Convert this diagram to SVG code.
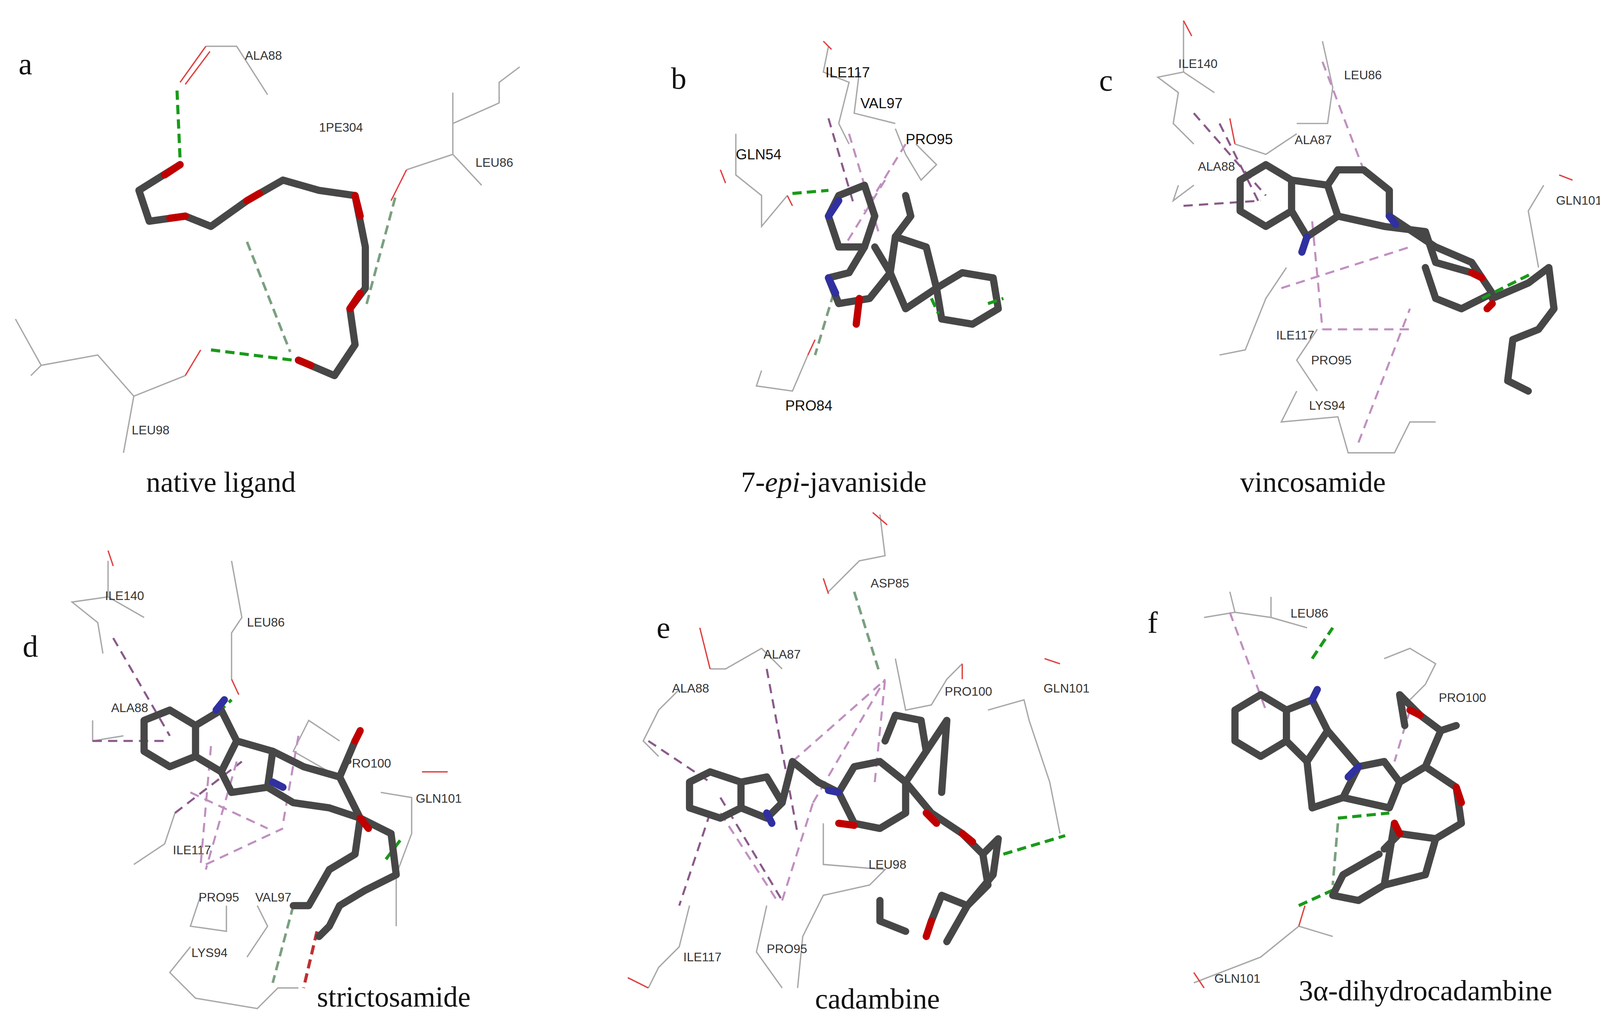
<svg xmlns="http://www.w3.org/2000/svg" width="4131" height="2642" viewBox="0 0 4131 2642">
<style>
.lig{fill:none;stroke:#474747;stroke-width:7;stroke-linecap:round;stroke-linejoin:round}
.o{fill:none;stroke:#c00000;stroke-width:7;stroke-linecap:round}
.n{fill:none;stroke:#3030a0;stroke-width:7;stroke-linecap:round}
.res{fill:none;stroke:#a8a8a8;stroke-width:1.3}
.ro{fill:none;stroke:#e04040;stroke-width:1.3}
.rn{fill:none;stroke:#8080e0;stroke-width:1.3}
.hb{fill:none;stroke:#1a9a1a;stroke-width:3;stroke-dasharray:9 5}
.hbl{fill:none;stroke:#7aa080;stroke-width:2.5;stroke-dasharray:9 5}
.pi{fill:none;stroke:#c090c0;stroke-width:2;stroke-dasharray:9 6}
.pd{fill:none;stroke:#8a5a8a;stroke-width:2;stroke-dasharray:9 6}
.lbl{font-family:"Liberation Sans",Arial,sans-serif;font-size:12px;fill:#333}
.lb2{font-family:"Liberation Sans",Arial,sans-serif;font-size:14px;fill:#111}
.cap{font-family:"Liberation Serif","Times New Roman",serif;font-size:28px;fill:#111}
.pl{font-family:"Liberation Serif","Times New Roman",serif;font-size:30px;fill:#111}
</style>
<rect width="4131" height="2642" fill="#fff"/>
<g transform="scale(2.6346)">
<g id="panel-a">
<text class="pl" x="18" y="72">a</text>
<polyline class="res" points="200,45 230,45 260,92"/><polyline class="ro" points="175,80 200,45"/><polyline class="ro" points="180,82 204,50"/>
<text class="lbl" x="238" y="58">ALA88</text>
<text class="lbl" x="310" y="128">1PE304</text>
<polyline class="res" points="395,165 440,150 440,120 485,100 485,80 505,65"/><polyline class="res" points="440,150 468,180"/><polyline class="res" points="440,120 440,90"/><polyline class="ro" points="380,195 395,165"/>
<text class="lbl" x="462" y="162">LEU86</text>
<polyline class="res" points="15,310 40,355 95,345 130,385 180,365"/><polyline class="res" points="40,355 30,365"/><polyline class="res" points="130,385 120,440"/><polyline class="ro" points="180,365 195,340"/>
<text class="lbl" x="128" y="422">LEU98</text>
<polyline class="hb" points="172,88 175,155"/><polyline class="hb" points="205,340 285,350"/>
<polyline class="hbl" points="240,235 282,342"/><polyline class="hbl" points="384,192 355,300"/>
<polyline class="lig" points="175,160 135,185 145,215 180,210 205,220 240,195 275,175 310,185 345,190 355,240 355,280 340,300 345,335 325,365 290,350"/>
<polyline class="o" points="175,160 160,170"/><polyline class="o" points="180,210 165,212"/><polyline class="o" points="240,195 252,188"/><polyline class="o" points="345,190 350,210"/><polyline class="o" points="340,300 350,285"/><polyline class="o" points="290,350 302,355"/>
<text class="cap" x="142" y="478">native ligand</text>
</g>
<g id="panel-b">
<text class="pl" x="652" y="86">b</text>
<polyline class="res" points="805,45 800,70 825,80 815,120 825,140"/><polyline class="ro" points="800,40 808,48"/>
<polyline class="res" points="835,70 830,110 870,120"/>
<text class="lb2" x="802" y="75">ILE117</text><text class="lb2" x="836" y="105">VAL97</text>
<polyline class="res" points="870,125 880,150 895,175 910,160 890,140"/><text class="lb2" x="880" y="140">PRO95</text>
<polyline class="res" points="715,130 715,170 740,190 740,220 765,190"/><polyline class="ro" points="700,165 705,178"/><polyline class="ro" points="765,190 770,200"/>
<text class="lb2" x="715" y="155">GLN54</text>
<polyline class="res" points="740,360 735,375 770,380 785,345"/><polyline class="ro" points="785,345 792,330"/>
<text class="lb2" x="763" y="399">PRO84</text>
<polyline class="hb" points="770,188 805,185"/><polyline class="hbl" points="810,285 792,345"/>
<polyline class="pd" points="805,115 830,200"/><polyline class="pi" points="825,130 855,230"/><polyline class="pi" points="880,140 840,205"/><polyline class="pi" points="860,175 820,240"/>
<polyline class="lig" points="815,190 840,180 850,210 840,240 815,240 805,210 815,190"/>
<polyline class="lig" points="840,240 825,265 805,270 815,295 845,290 865,265 850,240"/>
<polyline class="lig" points="865,265 870,230 885,210 880,190"/>
<polyline class="lig" points="870,230 900,240 910,280 880,300 865,265"/>
<polyline class="lig" points="910,280 935,265 965,270 970,300 945,315 915,310 910,280"/>
<polyline class="o" points="835,290 832,315"/><polyline class="n" points="805,270 812,285"/><polyline class="n" points="815,195 805,210"/>
<polyline class="hb" points="905,290 912,305"/><polyline class="hb" points="960,295 975,290"/>
<text class="cap" x="720" y="478">7-<tspan font-style="italic">epi</tspan>-javaniside</text>
</g>
<g id="panel-c">
<text class="pl" x="1068" y="88">c</text>
<polyline class="res" points="1150,20 1150,70 1125,75 1145,90 1140,120 1160,140"/><polyline class="res" points="1150,70 1180,90"/><polyline class="ro" points="1150,20 1158,35"/>
<text class="lbl" x="1145" y="66">ILE140</text>
<polyline class="res" points="1285,40 1295,85 1290,120 1260,120"/><text class="lbl" x="1306" y="77">LEU86</text>
<polyline class="res" points="1200,140 1230,150 1260,130"/><polyline class="ro" points="1195,115 1200,140"/><text class="lbl" x="1258" y="140">ALA87</text>
<polyline class="res" points="1145,180 1140,195 1160,180"/><text class="lbl" x="1164" y="166">ALA88</text>
<polyline class="res" points="1500,180 1485,205 1495,260"/><polyline class="ro" points="1515,170 1528,175"/><text class="lbl" x="1512" y="199">GLN101</text>
<polyline class="res" points="1250,260 1230,290 1210,340 1185,345"/><text class="lbl" x="1240" y="330">ILE117</text>
<polyline class="res" points="1280,320 1260,350 1280,380"/><text class="lbl" x="1274" y="354">PRO95</text>
<polyline class="res" points="1260,380 1245,410 1300,405 1310,440 1355,440 1370,410 1395,410"/><text class="lbl" x="1272" y="398">LYS94</text>
<polyline class="pd" points="1160,110 1230,190"/><polyline class="pd" points="1185,120 1225,200"/><polyline class="pd" points="1150,200 1225,195"/>
<polyline class="pi" points="1285,60 1325,165"/><polyline class="pi" points="1275,215 1285,320"/><polyline class="pi" points="1285,320 1375,320"/><polyline class="pi" points="1320,430 1370,300"/><polyline class="pi" points="1245,280 1370,240"/>
<polyline class="lig" points="1205,175 1230,160 1255,175 1255,205 1230,220 1205,205 1205,175"/>
<polyline class="lig" points="1255,175 1290,180 1300,210 1270,230 1255,205"/>
<polyline class="lig" points="1290,180 1300,165 1325,165 1350,185 1350,210"/>
<polyline class="lig" points="1300,210 1345,220 1385,225 1395,255 1430,265"/>
<polyline class="lig" points="1350,210 1395,240 1430,255 1450,285 1420,300 1395,290 1385,260"/>
<polyline class="lig" points="1450,290 1485,275 1505,260 1510,300 1495,320 1470,330 1465,370 1485,380"/>
<polyline class="o" points="1430,265 1440,270"/><polyline class="o" points="1450,295 1445,300"/><polyline class="n" points="1270,230 1265,245"/><polyline class="n" points="1350,210 1356,218"/>
<polyline class="hb" points="1440,290 1490,265"/>
<text class="cap" x="1205" y="478">vincosamide</text>
</g>
<g id="panel-d">
<text class="pl" x="22" y="638">d</text>
<polyline class="res" points="105,545 105,580 70,585 95,605 100,635"/><polyline class="res" points="105,580 140,600"/><polyline class="ro" points="105,535 110,550"/>
<text class="lbl" x="102" y="583">ILE140</text>
<polyline class="res" points="225,545 235,600 225,615 225,660"/><polyline class="ro" points="225,660 232,675"/><text class="lbl" x="240" y="609">LEU86</text>
<polyline class="res" points="90,700 90,720 120,715"/><text class="lbl" x="108" y="692">ALA88</text>
<polyline class="res" points="330,720 300,700 285,730 320,750"/><text class="lbl" x="334" y="746">PRO100</text>
<polyline class="res" points="370,770 400,775 400,810 385,850 385,900"/><polyline class="ro" points="410,750 435,750"/><text class="lbl" x="404" y="780">GLN101</text>
<polyline class="res" points="170,790 160,820 130,840"/><text class="lbl" x="168" y="830">ILE117</text>
<polyline class="res" points="195,870 185,900 220,905 220,880"/><text class="lbl" x="193" y="876">PRO95</text>
<polyline class="res" points="250,880 260,900 240,930"/><text class="lbl" x="248" y="876">VAL97</text>
<polyline class="res" points="185,920 165,945 190,970 250,980 270,960 290,960"/><text class="lbl" x="186" y="930">LYS94</text>
<polyline class="pd" points="110,620 165,715"/><polyline class="pd" points="90,720 165,720"/><polyline class="pd" points="170,790 235,740"/>
<polyline class="pi" points="205,725 195,840"/><polyline class="pi" points="185,770 260,805"/><polyline class="pi" points="200,840 275,805"/><polyline class="pi" points="230,740 200,845"/><polyline class="pi" points="290,715 275,800"/>
<polyline class="hb" points="212,692 225,680"/><polyline class="hbl" points="285,880 265,955"/><polyline class="hb" points="308,905 295,960" style="stroke:#c03030"/><polyline class="hb" points="375,835 390,815"/>
<polyline class="lig" points="140,700 165,690 190,705 190,735 165,745 140,730 140,700"/>
<polyline class="lig" points="190,705 215,690 230,720 215,750 190,735"/>
<polyline class="lig" points="230,720 265,730 260,765 225,770 215,750"/>
<polyline class="lig" points="265,730 295,745 330,755 350,795 345,830 320,845 300,880 285,880"/>
<polyline class="lig" points="260,765 285,780 320,785 350,795 380,810 385,850 355,865 330,880 320,900 310,910"/>
<polyline class="lig" points="330,755 345,720"/>
<polyline class="o" points="345,720 350,710"/><polyline class="n" points="210,690 218,680"/><polyline class="n" points="265,760 275,765"/><polyline class="o" points="350,795 358,805"/>
<text class="cap" x="308" y="978">strictosamide</text>
</g>
<g id="panel-e">
<text class="pl" x="638" y="620">e</text>
<polyline class="res" points="855,500 860,540 835,545 805,575"/><polyline class="ro" points="848,498 862,510"/><polyline class="ro" points="800,562 805,577"/>
<text class="lbl" x="846" y="571">ASP85</text>
<polyline class="res" points="690,650 705,650 740,630 760,650"/><polyline class="ro" points="680,610 690,650"/><text class="lbl" x="742" y="640">ALA87</text>
<polyline class="res" points="660,670 640,690 625,720 640,735"/><text class="lbl" x="653" y="673">ALA88</text>
<polyline class="res" points="870,640 880,690 905,685 920,660 935,645"/><polyline class="ro" points="935,645 935,660"/><text class="lbl" x="918" y="676">PRO100</text>
<polyline class="res" points="960,690 995,680 1000,700 1020,760 1030,810"/><polyline class="ro" points="1015,640 1030,645"/><text class="lbl" x="1014" y="673">GLN101</text>
<polyline class="res" points="800,800 800,840 860,845 845,860 800,870 780,910 775,960"/><text class="lbl" x="844" y="844">LEU98</text>
<polyline class="res" points="670,880 660,920 640,940 630,960"/><polyline class="ro" points="610,950 630,960"/><text class="lbl" x="664" y="934">ILE117</text>
<polyline class="res" points="745,880 735,925 760,960"/><text class="lbl" x="745" y="926">PRO95</text>
<polyline class="hbl" points="830,575 855,655"/><polyline class="hb" points="975,830 1035,812"/>
<polyline class="pd" points="630,720 690,760"/><polyline class="pd" points="745,650 775,810"/><polyline class="pd" points="700,775 760,875"/><polyline class="pd" points="690,790 660,880"/>
<polyline class="pi" points="760,875 790,780"/><polyline class="pi" points="700,790 755,875"/><polyline class="pi" points="790,780 860,660"/><polyline class="pi" points="770,740 855,665"/><polyline class="pi" points="850,760 860,660"/>
<polyline class="lig" points="670,760 690,750 720,760 720,785 700,795 670,785 670,760"/>
<polyline class="lig" points="720,760 745,755 760,780 745,795 720,785"/>
<polyline class="lig" points="760,780 770,740 795,760 815,770"/>
<polyline class="lig" points="815,770 830,745 855,740 880,760 880,790 855,805 830,800 815,770"/>
<polyline class="lig" points="880,760 900,730 895,700 870,695 860,720"/>
<polyline class="lig" points="880,760 905,790 935,810 955,830 960,860 940,880 915,870 905,895"/>
<polyline class="lig" points="955,830 970,815 965,850 940,880 920,915"/>
<polyline class="lig" points="900,730 920,700 915,770"/>
<polyline class="o" points="900,790 910,800"/><polyline class="o" points="935,810 945,818"/><polyline class="n" points="745,790 750,800"/><polyline class="n" points="815,770 805,768"/><polyline class="o" points="815,800 830,802"/><polyline class="o" points="905,895 900,910"/>
<polyline class="lig" points="855,875 855,895 880,905"/>
<text class="cap" x="792" y="980">cadambine</text>
</g>
<g id="panel-f">
<text class="pl" x="1115" y="615">f</text>
<polyline class="res" points="1170,600 1200,595 1235,600 1270,610"/><polyline class="res" points="1200,595 1195,575"/><polyline class="res" points="1235,600 1235,580"/>
<text class="lbl" x="1254" y="600">LEU86</text>
<polyline class="res" points="1345,640 1370,630 1395,645 1385,665 1370,680"/><text class="lbl" x="1398" y="682">PRO100</text>
<polyline class="res" points="1160,955 1225,930 1262,900 1295,910"/><polyline class="ro" points="1160,945 1170,960"/><polyline class="ro" points="1262,900 1268,880"/>
<text class="lbl" x="1180" y="955">GLN101</text>
<polyline class="pi" points="1195,595 1230,690"/><polyline class="pi" points="1370,690 1355,740"/>
<polyline class="hb" points="1275,640 1295,610"/><polyline class="hb" points="1300,795 1350,790"/><polyline class="hbl" points="1300,800 1295,860"/><polyline class="hb" points="1262,880 1295,865"/>
<polyline class="lig" points="1200,690 1225,675 1250,690 1250,720 1225,735 1200,720 1200,690"/>
<polyline class="lig" points="1250,690 1275,680 1290,710 1270,740 1250,720"/>
<polyline class="lig" points="1290,710 1320,745 1305,775 1275,785 1270,740"/>
<polyline class="lig" points="1320,745 1345,740 1360,760 1350,785 1305,775"/>
<polyline class="lig" points="1360,760 1385,745 1400,710 1380,695 1360,675 1365,705"/>
<polyline class="lig" points="1385,745 1415,765 1420,800 1395,815 1360,810 1345,825"/>
<polyline class="lig" points="1395,815 1385,850 1345,860 1320,875 1295,870 1305,850 1340,830"/>
<polyline class="lig" points="1400,710 1415,705"/><polyline class="lig" points="1345,860 1355,800"/>
<polyline class="o" points="1380,695 1370,690"/><polyline class="o" points="1415,765 1420,780"/><polyline class="n" points="1320,745 1310,755"/><polyline class="n" points="1275,680 1280,670"/><polyline class="o" points="1360,810 1355,800"/>
<text class="cap" x="1262" y="972">3α-dihydrocadambine</text>
</g>
</g>
</svg>
